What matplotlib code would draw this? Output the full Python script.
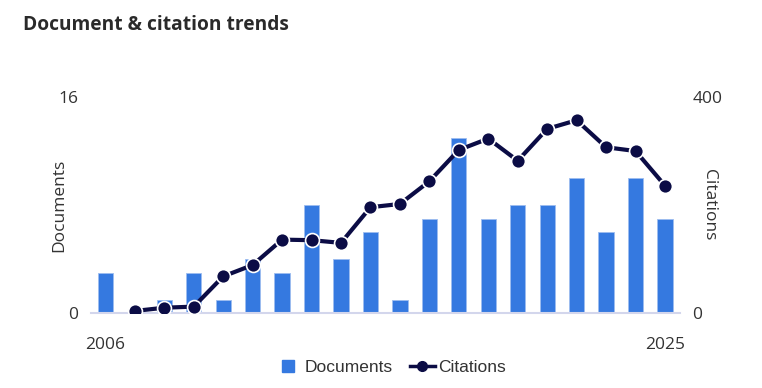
import matplotlib.pyplot as plt
from matplotlib.lines import Line2D

years = list(range(2006, 2026))
documents = [3, 0, 1, 3, 1, 4, 3, 8, 4, 6, 1, 7, 13, 7, 8, 8, 10, 6, 10, 7]
cite_years = list(range(2007, 2026))
citations = [4, 10, 12, 68, 89, 136, 135, 130, 196, 202, 244, 302, 323, 282, 341, 357, 307, 300, 236]

bar_color = '#3579e0'
line_color = '#0b0c45'
text_color = '#333333'

plt.rcParams['font.family'] = ['Open Sans', 'DejaVu Sans']

fig = plt.figure(figsize=(7.62, 3.88), dpi=100)
ax = fig.add_axes([0.119, 0.193, 0.773, 0.557])
ax2 = ax.twinx()

idx = [y - years[0] for y in years]
ax.bar(idx, documents, width=0.52, color=bar_color, edgecolor='#9dbdf0',
       linewidth=0.6, zorder=2)
cidx = [y - years[0] for y in cite_years]
ax2.plot(cidx, citations, color=line_color, lw=3, marker='o', ms=10,
         mfc=line_color, mec='white', mew=1.2, zorder=3)

ax.set_xlim(-0.5, 19.5)
ax.set_ylim(0, 16)
ax2.set_ylim(0, 400)
ax.set_yticks([0, 16])
ax2.set_yticks([0, 400])
ax.set_xticks([0, 19])
ax.set_xticklabels([str(years[0]), str(years[-1])])

for a in (ax, ax2):
    for s in a.spines.values():
        s.set_visible(False)
    a.tick_params(length=0, labelsize=12.5, colors=text_color)
ax.spines['bottom'].set_visible(True)
ax.spines['bottom'].set_color('#d3d6ec')
ax.spines['bottom'].set_linewidth(1.5)
ax.tick_params(axis='x', pad=17)
ax.tick_params(axis='y', pad=9)
ax2.tick_params(axis='y', pad=9)

ax.set_ylabel('Documents', fontsize=12.5, color=text_color, va='bottom')
ax.yaxis.set_label_coords(-0.039, 0.5)
ax2.set_ylabel('Citations', fontsize=12.5, color=text_color, rotation=270, va='bottom')
ax2.yaxis.set_label_coords(1.037, 0.5)

fig.text(0.03, 0.935, 'Document & citation trends', fontsize=13.8, fontweight='bold',
         color='#2a2a2a', va='center')

handles = [
    Line2D([], [], ls='none', marker='s', ms=8, mfc=bar_color, mec=bar_color, label='Documents'),
    Line2D([], [], color=line_color, lw=2.5, marker='o', ms=7, mfc=line_color,
           mec=line_color, label='Citations'),
]
leg = fig.legend(handles=handles, loc='center', bbox_to_anchor=(0.513, 0.052), ncol=2,
                 frameon=False, prop={'family': 'Liberation Sans', 'size': 12.5},
                 handlelength=1.45, columnspacing=1.0, handletextpad=0.2)
for t in leg.get_texts():
    t.set_color(text_color)

fig.savefig('out.png', dpi=100)
